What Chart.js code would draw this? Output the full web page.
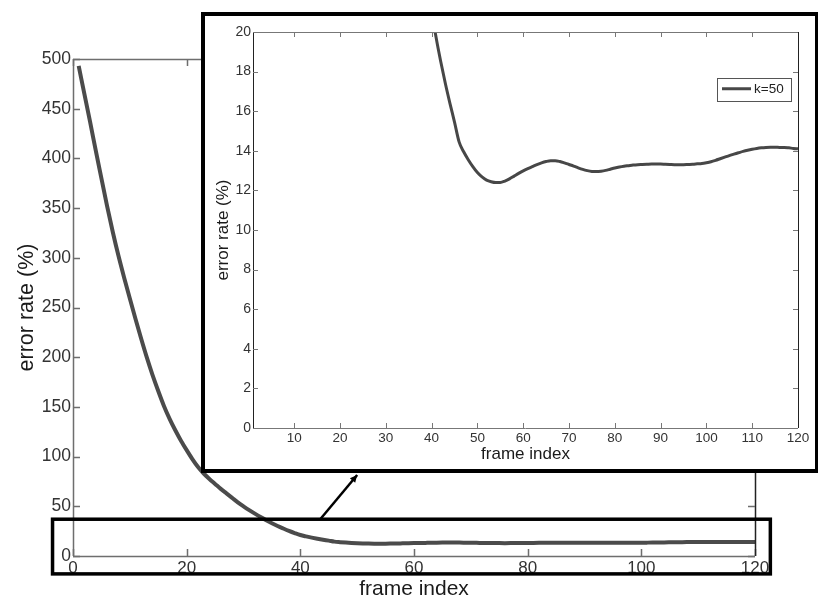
<!DOCTYPE html>
<html><head><meta charset="utf-8">
<script src="https://cdn.jsdelivr.net/npm/chart.js@4/dist/chart.umd.min.js"></script>
<style>
html,body{margin:0;padding:0;background:#fff;}
#wrap{position:relative;width:830px;height:608px;overflow:hidden;background:#fff;}
#main{position:absolute;left:0;top:0;}
#insetBox{position:absolute;left:201px;top:12px;width:610px;height:453px;border:4px solid #000;border-right-width:3px;background:#fff;}
#inset{display:block;}
</style></head><body>
<div id="wrap">
<canvas id="main" width="830" height="608" style="width:830px;height:608px"></canvas>
<div id="insetBox"><canvas id="inset" width="610" height="453" style="width:610px;height:453px"></canvas></div>
</div>
<script>
// ---- data ----
const frames = [1,2,3,4,5,6,7,8,9,10,11,12,13,14,15,16,17,18,19,20,
21,22,23,24,25,26,27,28,29,30,31,32,33,34,35,36,37,38,39,40,
41,42,43,44,45,46,47,48,49,50,51,52,53,54,55,56,57,58,59,60,
61,62,63,64,65,66,67,68,69,70,71,72,73,74,75,76,77,78,79,80,
81,82,83,84,85,86,87,88,89,90,91,92,93,94,95,96,97,98,99,100,
101,102,103,104,105,106,107,108,109,110,111,112,113,114,115,116,117,118,119,120];
const errorRate = [493,465,437,408,380,352,326,302,280,259,
238.5,218.5,199.5,182,166,151,138,126.5,116,106.5,
97.5,89.5,83,77.5,72.5,67.5,63,58.5,54,50,
46.2,42.6,39.2,36,33,30.2,27.7,25.3,23.1,21.1,
19.7,18.5,17.4,16.4,15.45,14.45,13.95,13.55,13.2,12.9,
12.68,12.52,12.44,12.4,12.4,12.47,12.58,12.72,12.86,12.99,
13.1,13.2,13.3,13.39,13.46,13.5,13.5,13.46,13.39,13.31,
13.23,13.14,13.06,13.0,12.96,12.95,12.97,13.01,13.07,13.13,
13.18,13.22,13.25,13.28,13.3,13.31,13.32,13.33,13.33,13.33,
13.32,13.31,13.3,13.3,13.3,13.31,13.32,13.34,13.36,13.4,
13.45,13.52,13.6,13.68,13.76,13.83,13.9,13.97,14.03,14.08,
14.12,14.15,14.17,14.18,14.18,14.17,14.17,14.15,14.12,14.1];
const seriesLabel = 'k=50';
const mainXTicks = [0,20,40,60,80,100,120];
const mainYTicks = [0,50,100,150,200,250,300,350,400,450,500];
const insetXTicks = [10,20,30,40,50,60,70,80,90,100,110,120];
const insetYTicks = [0,2,4,6,8,10,12,14,16,18,20];
const xTitle = 'frame index';
const yTitle = 'error rate (%)';
// zoom-region annotation (in main-axis units)
const zoomRect = {x0:-3.6, x1:122.7, y0:-18, y1:37};
const zoomArrow = {x0:43.5, y0:37, x1:50, y1:81.5};

const FONT = "'Liberation Sans', Arial, Helvetica, sans-serif";
const points = frames.map((f,i)=>({x:f, y:errorRate[i]}));

function px(v){return Math.round(v)+0.5;}

const boxTicks = {
  id:'boxTicks',
  afterDatasetsDraw(chart, args, o){
    const {ctx, chartArea:a, scales:{x,y}} = chart;
    ctx.save();
    ctx.lineWidth = o.width;
    const L=a.left, R=a.right, T=a.top, B=a.bottom;
    ctx.strokeStyle = o.hColor;
    ctx.beginPath();
    ctx.moveTo(L, px(T)); ctx.lineTo(R, px(T));
    ctx.moveTo(L, px(B)); ctx.lineTo(R, px(B));
    x.ticks.forEach(t=>{
      const p = px(x.getPixelForValue(t.value));
      ctx.moveTo(p, B); ctx.lineTo(p, B-o.len);
      ctx.moveTo(p, T); ctx.lineTo(p, T+o.len);
    });
    ctx.stroke();
    ctx.strokeStyle = o.vColor;
    ctx.beginPath();
    ctx.moveTo(px(L), T); ctx.lineTo(px(L), B);
    ctx.stroke();
    ctx.strokeStyle = o.rColor;
    ctx.beginPath();
    ctx.moveTo(px(R), T); ctx.lineTo(px(R), B);
    ctx.stroke();
    ctx.strokeStyle = o.hColor;
    ctx.beginPath();
    y.ticks.forEach(t=>{
      const p = px(y.getPixelForValue(t.value));
      ctx.moveTo(L, p); ctx.lineTo(L+o.len, p);
      ctx.moveTo(R, p); ctx.lineTo(R-o.len, p);
    });
    ctx.stroke();
    ctx.restore();
  }
};

const zoomMarks = {
  id:'zoomMarks',
  afterDraw(chart){
    const {ctx, scales:{x,y}} = chart;
    ctx.save();
    ctx.strokeStyle = '#000';
    ctx.lineWidth = 3.5;
    const rx0 = x.getPixelForValue(zoomRect.x0), rx1 = x.getPixelForValue(zoomRect.x1);
    const ry0 = y.getPixelForValue(zoomRect.y0), ry1 = y.getPixelForValue(zoomRect.y1);
    ctx.strokeRect(rx0, ry1, rx1-rx0, ry0-ry1);
    const ax0 = x.getPixelForValue(zoomArrow.x0), ay0 = y.getPixelForValue(zoomArrow.y0);
    const ax1 = x.getPixelForValue(zoomArrow.x1), ay1 = y.getPixelForValue(zoomArrow.y1);
    ctx.lineWidth = 2.5;
    ctx.beginPath(); ctx.moveTo(ax0, ay0); ctx.lineTo(ax1, ay1); ctx.stroke();
    const ang = Math.atan2(ay1-ay0, ax1-ax0), hl = 8, hw = 0.45;
    ctx.fillStyle = '#000';
    ctx.beginPath();
    ctx.moveTo(ax1, ay1);
    ctx.lineTo(ax1 - hl*Math.cos(ang-hw), ay1 - hl*Math.sin(ang-hw));
    ctx.lineTo(ax1 - hl*Math.cos(ang+hw), ay1 - hl*Math.sin(ang+hw));
    ctx.closePath(); ctx.fill();
    ctx.restore();
  }
};

const boxLegend = {
  id:'boxLegend',
  afterDraw(chart){
    const {ctx, chartArea:a} = chart;
    const ds = chart.data.datasets[0];
    const bx1 = a.right - 7.5, bx0 = bx1 - 73.5, by0 = a.top + 45.5, by1 = by0 + 22.5;
    ctx.save();
    ctx.fillStyle = '#fff';
    ctx.fillRect(bx0, by0, bx1-bx0, by1-by0);
    ctx.strokeStyle = '#555'; ctx.lineWidth = 1;
    ctx.strokeRect(Math.round(bx0)+0.5, Math.round(by0)+0.5, Math.round(bx1-bx0), Math.round(by1-by0));
    const cy = (by0+by1)/2;
    ctx.strokeStyle = ds.borderColor; ctx.lineWidth = ds.borderWidth;
    ctx.beginPath(); ctx.moveTo(bx0+5, cy); ctx.lineTo(bx0+34, cy); ctx.stroke();
    ctx.fillStyle = '#222';
    ctx.font = '13.5px ' + FONT;
    ctx.textBaseline = 'middle'; ctx.textAlign = 'left';
    ctx.fillText(ds.label, bx0+37, cy+0.5);
    ctx.restore();
  }
};

function setTicks(list){ return s => { s.ticks = list.map(v=>({value:v})); }; }

new Chart(document.getElementById('main'), {
  type:'line',
  data:{datasets:[{label:seriesLabel, data:points, borderColor:'#4b4b4b', borderWidth:4,
    pointRadius:0, cubicInterpolationMode:'monotone', fill:false, clip:0}]},
  options:{
    responsive:false, animation:false, events:[],
    layout:{padding:{top:59, right:75, left:0, bottom:0}},
    plugins:{legend:{display:false}, tooltip:{enabled:false},
      boxTicks:{len:7, width:1.5, hColor:'#6e6e6e', vColor:'#6e6e6e', rColor:'#222'}},
    scales:{
      x:{type:'linear', min:0, max:120, afterBuildTicks:setTicks(mainXTicks),
        afterFit:s=>{s.height=52;},
        grid:{display:false, drawTicks:false}, border:{display:false},
        ticks:{padding:2, maxRotation:0, autoSkip:false, color:'#333', font:{family:FONT, size:17}},
        title:{display:true, text:xTitle, color:'#1a1a1a', font:{family:FONT, size:21}, padding:{top:0, bottom:6}}},
      y:{type:'linear', min:0, max:500, afterBuildTicks:setTicks(mainYTicks),
        afterFit:s=>{s.width=73;},
        grid:{display:false, drawTicks:false}, border:{display:false},
        ticks:{padding:2, color:'#333', font:{family:FONT, size:17.5}},
        title:{display:true, text:yTitle, color:'#1a1a1a', font:{family:FONT, size:21.5}, padding:{top:14, bottom:0}}}
    }
  },
  plugins:[boxTicks, zoomMarks]
});

new Chart(document.getElementById('inset'), {
  type:'line',
  data:{datasets:[{label:seriesLabel, data:points, borderColor:'#474747', borderWidth:3,
    pointRadius:0, cubicInterpolationMode:'monotone', fill:false, clip:0}]},
  options:{
    responsive:false, animation:false, events:[],
    layout:{padding:{top:16, right:17, left:0, bottom:0}},
    plugins:{legend:{display:false}, tooltip:{enabled:false},
      boxTicks:{len:5, width:1, hColor:'#777', vColor:'#222', rColor:'#222'}},
    scales:{
      x:{type:'linear', min:1, max:120, afterBuildTicks:setTicks(insetXTicks),
        afterFit:s=>{s.height=41;},
        grid:{display:false, drawTicks:false}, border:{display:false},
        ticks:{padding:2, maxRotation:0, autoSkip:false, color:'#333', font:{family:FONT, size:13.5}},
        title:{display:true, text:xTitle, color:'#1a1a1a', font:{family:FONT, size:17}, padding:{top:0, bottom:4}}},
      y:{type:'linear', min:0, max:20, afterBuildTicks:setTicks(insetYTicks),
        afterFit:s=>{s.width=48;},
        grid:{display:false, drawTicks:false}, border:{display:false},
        ticks:{padding:2, color:'#333', font:{family:FONT, size:14}},
        title:{display:true, text:yTitle, color:'#1a1a1a', font:{family:FONT, size:17}, padding:{top:8, bottom:0}}}
    }
  },
  plugins:[boxTicks, boxLegend]
});
</script>
</body></html>
